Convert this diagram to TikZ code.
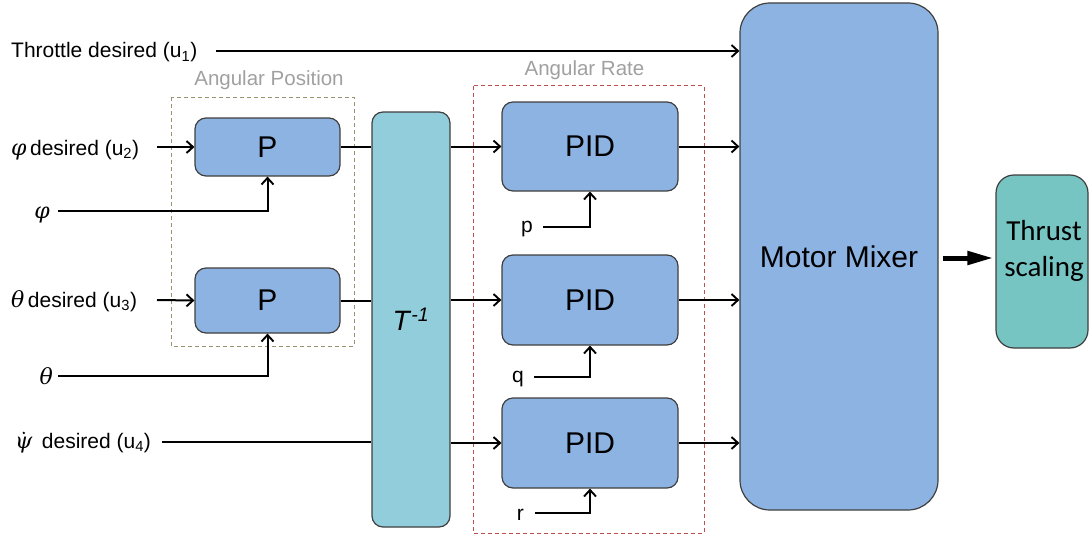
\documentclass[tikz,border=0pt]{standalone}
\usepackage{fontspec}
\setmainfont{Liberation Sans}
\newfontfamily\calibfont{Carlito}
\newfontfamily\grkfont{DejaVu Serif}
\usetikzlibrary{arrows.meta}

\definecolor{boxblue}{HTML}{8DB3E2}
\definecolor{tblue}{HTML}{92CDDC}
\definecolor{thrustteal}{HTML}{76C5C3}
\definecolor{edgegray}{HTML}{3F3F3F}
\definecolor{groupgray}{HTML}{A0A0A0}
\definecolor{olivedash}{HTML}{9C9270}
\definecolor{reddash}{HTML}{C0504D}

% italic Greek symbols for the signal names
\newcommand{\gk}[1]{{\grkfont\itshape\fontsize{22}{25}\selectfont #1}}

\begin{document}
\begin{tikzpicture}[x=1pt,y=-1pt,
  blk/.style={draw=edgegray, line width=1.2pt, rounded corners=11pt, fill=boxblue,
              font=\fontsize{30}{34}\selectfont, inner sep=0pt},
  lbl/.style={font=\fontsize{21}{25}\selectfont, inner sep=0pt},
  grouptxt/.style={font=\fontsize{20.5}{24}\selectfont, text=groupgray, inner sep=0pt},
  sig/.style={line width=2pt, -{Straight Barb[length=6.5pt,width=12pt,line width=1.9pt]}},
  plain/.style={line width=2pt},
  grp/.style={line width=1pt, dash pattern=on 4pt off 3pt}
]
\useasboundingbox (0,0) rectangle (1090,535);

% group frames
\draw[grp, olivedash] (171,97) rectangle (354,346);
\draw[grp, reddash] (473,86) rectangle (704,533);
\node[grouptxt, anchor=base] (angpos) at (269,85) {Angular Position};
\node[grouptxt, anchor=base] (angrate) at (584.5,75) {Angular Rate};

% blocks
\node[blk, minimum width=145pt, minimum height=58pt] (p1) at (267.5,147) {P};
\node[blk, minimum width=145pt, minimum height=65pt] (p2) at (267.5,300.5) {P};
\node[blk, fill=tblue, minimum width=78pt, minimum height=415pt,
      font=\fontsize{28}{32}\selectfont] (tinv) at (411,319.5) {\textit{T}\textsuperscript{\textit{-1}}};
\node[blk, minimum width=176pt, minimum height=89pt] (pid1) at (590,146.5) {PID};
\node[blk, minimum width=176pt, minimum height=90pt] (pid2) at (590,300) {PID};
\node[blk, minimum width=176pt, minimum height=90pt] (pid3) at (590,443) {PID};
\node[blk, rounded corners=30pt, minimum width=198pt, minimum height=507pt] (mix) at (839,256.5) {Motor Mixer};
\node[blk, fill=thrustteal, rounded corners=18pt, minimum width=92pt, minimum height=173pt] (thrust) at (1042,261.5) {};
\node[align=center, inner sep=0pt, font=\calibfont\fontsize{29}{36}\selectfont] (thrusttxt)
  at (1044,251) {Thrust\\scaling};

% inputs on the left
\coordinate (thrin) at (216,51);
\node[lbl, anchor=base west] (thrlab) at (11,58) {Throttle desired (u\textsubscript{1})};
\coordinate (phidin) at (157,147);
\node[lbl, anchor=base west] (phidlab) at (11,155) {\gk{φ}\,desired (u\textsubscript{2})};
\coordinate (phiin) at (58,211);
\node[lbl, anchor=base east] (philab) at (50,218) {\gk{φ}};
\coordinate (thdin) at (157,300);
\node[lbl, anchor=base west] (thdlab) at (11,307) {\gk{θ}\,desired (u\textsubscript{3})};
\coordinate (thin) at (58,376);
\node[lbl, anchor=base east] (thlab) at (53,384) {\gk{θ}};
\coordinate (psidin) at (162,442);
\node[lbl, anchor=base west] (psidlab) at (15,448)
  {\tikz[baseline=0pt]{\node[inner sep=0pt, anchor=base] (psg) {\gk{ψ}};
   \fill ([yshift=3.5pt]psg.north) circle (1.3pt);}\hspace{0.45em}desired (u\textsubscript{4})};

% rate feedback inputs
\coordinate (pin) at (543,227);
\node[lbl, anchor=base east] (plab) at (533,232.5) {p};
\coordinate (qin) at (534,377);
\node[lbl, anchor=base east] (qlab) at (524,382.5) {q};
\coordinate (rin) at (535,513);
\node[lbl, anchor=base east] (rlab) at (524,520) {r};

% connectors
\draw[sig] (thrin) -- (thrin -| mix.west);
\draw[sig] (phidin) -- (p1.west);
\draw[sig] (phiin) -| (p1.south);
\draw[sig] (thdin) -- (p2.west);
\draw[sig] (thin) -| (p2.south);
\draw[plain] (psidin) -- (psidin -| tinv.west);
\draw[plain] (p1.east) -- (p1.east -| tinv.west);
\draw[plain] (p2.east) -- (p2.east -| tinv.west);
\draw[sig] (tinv.east |- pid1.west) -- (pid1.west);
\draw[sig] (tinv.east |- pid2.west) -- (pid2.west);
\draw[sig] (tinv.east |- pid3.west) -- (pid3.west);
\draw[sig] (pin) -| (pid1.south);
\draw[sig] (qin) -| (pid2.south);
\draw[sig] (rin) -| (pid3.south);
\draw[sig] (pid1.east) -- (pid1.east -| mix.west);
\draw[sig] (pid2.east) -- (pid2.east -| mix.west);
\draw[sig] (pid3.east) -- (pid3.east -| mix.west);
\draw[line width=5pt, -{Triangle[length=26pt,width=13pt]}, shorten >=-1pt]
  ([xshift=4pt]mix.east |- 0,258) -- ([xshift=-3pt]thrust.west |- 0,258);
\end{tikzpicture}
\end{document}
